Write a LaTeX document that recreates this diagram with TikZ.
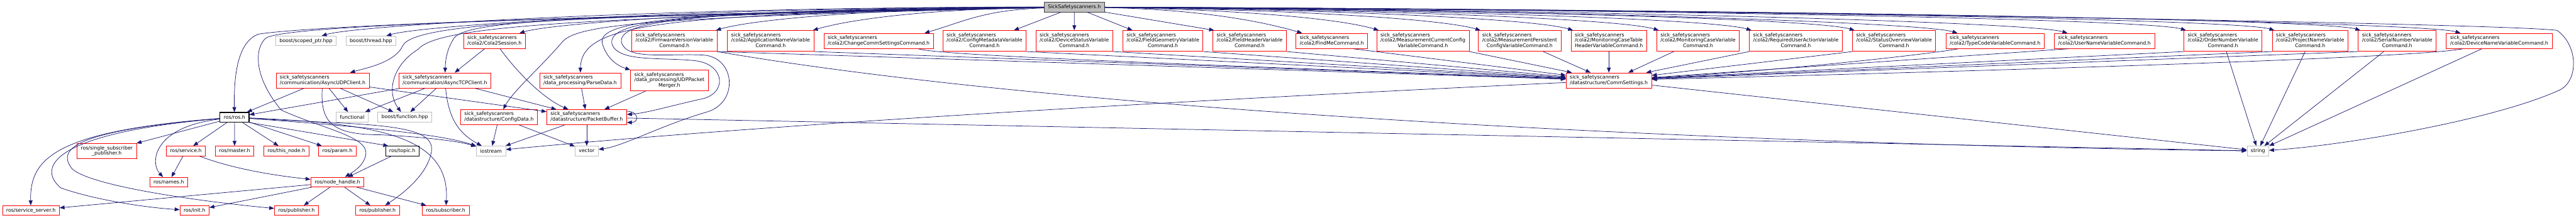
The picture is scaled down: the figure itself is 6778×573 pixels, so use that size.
\documentclass[tikz,border=0pt]{standalone}
\usepackage{fontspec}
\setmainfont{DejaVu Sans}
\usetikzlibrary{arrows.meta}
\definecolor{edgeblue}{HTML}{191970}
\definecolor{lightgrey}{HTML}{BFBFBF}
\definecolor{darkgrey}{HTML}{404040}
\newcommand{\sss}{sick\_safetyscanners}
\newcommand{\twoline}[2]{\begin{tabular}{@{}l@{}}#1\\#2\end{tabular}}
\newcommand{\threeline}[3]{\begin{tabular}{@{}l@{}}#1\\#2\\\multicolumn{1}{@{}c@{}}{#3}\end{tabular}}

\begin{document}
\begin{tikzpicture}[x=1pt,y=-1pt,
  font=\fontsize{13}{14.6}\selectfont,
  box/.style={draw,rectangle,fill=white,inner xsep=10pt,inner ysep=1pt,line width=1.3pt},
  redbox/.style={box,draw=red},
  greybox/.style={box,draw=lightgrey},
  one/.style={minimum height=25.6pt},
  two/.style={minimum height=40.2pt},
  three/.style={minimum height=54.8pt},
  dep/.style={draw=edgeblue,line width=1.2pt,-{Triangle[length=13pt,width=10pt]}}]
  \path[use as bounding box,fill=white] (0,0) rectangle (6778,573);

  \node[box,draw=darkgrey,fill=lightgrey,one] (root) at (2826.8,18.5) {SickSafetyscanners.h};

  \node[greybox,one] (scoped) at (805,107.8) {boost/scoped\_ptr.hpp};
  \node[greybox,one] (thread) at (976,107.8) {boost/thread.hpp};
  \node[redbox,two] (session) at (1301,107.8) {\twoline{\sss}{/cola2/Cola2Session.h}};
  \node[redbox,three] (firmware) at (1774.4,107.8) {\threeline{\sss}{/cola2/FirmwareVersionVariable}{Command.h}};
  \node[redbox,three] (appname) at (2027.7,107.8) {\threeline{\sss}{/cola2/ApplicationNameVariable}{Command.h}};
  \node[redbox,two] (commcmd) at (2311.9,107.8) {\twoline{\sss}{/cola2/ChangeCommSettingsCommand.h}};
  \node[redbox,three] (metadata) at (2590.4,107.8) {\threeline{\sss}{/cola2/ConfigMetadataVariable}{Command.h}};
  \node[redbox,three] (devstatus) at (2826.6,107.8) {\threeline{\sss}{/cola2/DeviceStatusVariable}{Command.h}};
  \node[redbox,three] (fieldgeo) at (3059.8,107.8) {\threeline{\sss}{/cola2/FieldGeometryVariable}{Command.h}};
  \node[redbox,three] (fieldhead) at (3288,107.8) {\threeline{\sss}{/cola2/FieldHeaderVariable}{Command.h}};
  \node[redbox,two] (findme) at (3504,107.8) {\twoline{\sss}{/cola2/FindMeCommand.h}};
  \node[redbox,three] (meascur) at (3744,107.8) {\threeline{\sss}{/cola2/MeasurementCurrentConfig}{VariableCommand.h}};
  \node[redbox,three] (measper) at (3998.6,107.8) {\threeline{\sss}{/cola2/MeasurementPersistent}{ConfigVariableCommand.h}};
  \node[redbox,three] (montable) at (4233.2,107.8) {\threeline{\sss}{/cola2/MonitoringCaseTable}{HeaderVariableCommand.h}};
  \node[redbox,three] (moncase) at (4467.9,107.8) {\threeline{\sss}{/cola2/MonitoringCaseVariable}{Command.h}};
  \node[redbox,three] (userreq) at (4725.2,107.8) {\threeline{\sss}{/cola2/RequiredUserActionVariable}{Command.h}};
  \node[redbox,three] (statusov) at (4983.7,107.8) {\threeline{\sss}{/cola2/StatusOverviewVariable}{Command.h}};
  \node[redbox,two] (typecode) at (5249.4,107.8) {\twoline{\sss}{/cola2/TypeCodeVariableCommand.h}};
  \node[redbox,two] (username) at (5537.3,107.8) {\twoline{\sss}{/cola2/UserNameVariableCommand.h}};
  \node[redbox,three] (ordernum) at (5849,107.8) {\threeline{\sss}{/cola2/OrderNumberVariable}{Command.h}};
  \node[redbox,three] (projname) at (6078.5,107.8) {\threeline{\sss}{/cola2/ProjectNameVariable}{Command.h}};
  \node[redbox,three] (serialnum) at (6307.6,107.8) {\threeline{\sss}{/cola2/SerialNumberVariable}{Command.h}};
  \node[redbox,two] (devname) at (6575.8,107.8) {\twoline{\sss}{/cola2/DeviceNameVariableCommand.h}};

  \node[redbox,two] (udp) at (849,212) {\twoline{\sss}{/communication/AsyncUDPClient.h}};
  \node[redbox,two] (tcp) at (1170.5,212) {\twoline{\sss}{/communication/AsyncTCPClient.h}};
  \node[redbox,two] (parse) at (1526.5,212) {\twoline{\sss}{/data\_processing/ParseData.h}};
  \node[redbox,three] (merger) at (1761.4,212) {\threeline{\sss}{/data\_processing/UDPPacket}{Merger.h}};
  \node[redbox,two] (commset) at (4233.2,212) {\twoline{\sss}{/datastructure/CommSettings.h}};

  \node[box,draw=black,line width=2pt,one] (ros) at (617,309) {ros/ros.h};
  \node[greybox,one] (functional) at (926.5,308.4) {functional};
  \node[greybox,one] (boostfn) at (1065,308.4) {boost/function.hpp};
  \node[redbox,two] (config) at (1313,308.8) {\twoline{\sss}{/datastructure/ConfigData.h}};
  \node[redbox,two] (buffer) at (1543.8,308.8) {\twoline{\sss}{/datastructure/PacketBuffer.h}};

  \node[redbox,two,align=center] (ssp) at (281,398) {ros/single\_subscriber\\\_publisher.h};
  \node[redbox,one] (service) at (489,397.6) {ros/service.h};
  \node[redbox,one] (master) at (617.2,397.6) {ros/master.h};
  \node[redbox,one] (thisnode) at (753.4,397.6) {ros/this\_node.h};
  \node[redbox,one] (param) at (887.8,397.6) {ros/param.h};
  \node[box,draw=black,one] (topic) at (1058.5,397.6) {ros/topic.h};
  \node[greybox,one] (iostream) at (1292,397.6) {iostream};
  \node[greybox,one] (vector) at (1543.8,397.6) {vector};
  \node[greybox,one] (string) at (5941,397.6) {string};

  \node[redbox,one] (names) at (444,479.8) {ros/names.h};
  \node[redbox,one] (nodehandle) at (887.7,479.8) {ros/node\_handle.h};

  \node[redbox,one] (server) at (81.3,554.4) {ros/service\_server.h};
  \node[redbox,one] (init) at (511.8,554.4) {ros/init.h};
  \node[redbox,one] (pub) at (780,554.4) {ros/publisher.h};
  \node[redbox,one] (pubb) at (993.3,554.4) {ros/publisher.h};
  \node[redbox,one] (sub) at (1172.8,554.4) {ros/subscriber.h};

  \foreach \n/\dx/\a/\b/\c/\d in {firmware/-3/2315/22/1985/50, appname/-3/2443/24/2240/50,
      commcmd/-24/2589/26/2533/58, session/-16/2056/20/1467/58, thread/-26/1881/19/1116/65, scoped/-39/1796/18/946/65}
    \draw[dep] (root) .. controls (\a,\b) and (\c,\d) .. ([xshift=\dx pt]\n.north east);
  \draw[dep] (root) -- ([xshift=-33pt]metadata.north east);
  \draw[dep] (root) -- (devstatus);
  \draw[dep] (root) -- ([xshift=26pt]fieldgeo.north west);
  \draw[dep] (root) -- ([xshift=4pt]fieldhead.north west);
  \foreach \n/\dx/\a/\c/\d in {findme/17/3166/3326/58, meascur/6/3268/3529/50, measper/6/3401/3795/50,
      montable/6/3523/4039/50, moncase/6/3636/4264/50, userreq/6/3757/4508/50, statusov/6/3893/4779/50,
      typecode/31/4028/5050/58, username/35/4173/5339/58, ordernum/6/4329/5651/50, projname/6/4445/5883/50,
      serialnum/6/4558/6110/50, devname/38/4690/6373/58}
    \draw[dep] (root) .. controls (\a,25) and (\c,\d) .. ([xshift=\dx pt]\n.north west);

  \draw[dep] (root) .. controls (1500,40) and (800,70) .. (680,90) .. controls (625,110) and (615,200) .. (ros);
  \draw[dep] (root) .. controls (1500,45) and (760,65) .. (700,100) .. controls (670,125) and (665,200) .. (740,290)
    .. controls (850,340) and (975,360) .. (962,410) .. controls (955,440) and (925,455) .. (nodehandle);
  \draw[dep] (root) .. controls (1500,40) and (1090,60) .. (1060,120) .. controls (1040,165) and (960,180) .. (udp);
  \draw[dep] (root) .. controls (1500,45) and (1150,70) .. (1100,130) .. controls (1035,170) and (1015,240) .. (boostfn);
  \draw[dep] (root) .. controls (1600,40) and (1230,50) .. (1195,100) .. controls (1175,130) and (1172,160) .. (tcp);
  \draw[dep] (root) .. controls (1700,45) and (1520,65) .. (1480,110) .. controls (1420,180) and (1350,240) .. (config);
  \draw[dep] (root) .. controls (1740,38) and (1530,60) .. (parse);
  \draw[dep] (root) .. controls (1760,30) and (1570,55) .. (1585,115) .. controls (1595,150) and (1620,172) .. (merger.north west);
  \draw[dep] (root) .. controls (1780,28) and (1600,55) .. (1610,115) .. controls (1625,165) and (1740,150) .. (1830,160)
    .. controls (1910,170) and (1915,250) .. (1840,262) .. controls (1760,280) and (1700,298) .. (buffer);
  \draw[dep] (root) .. controls (1800,28) and (1630,55) .. (1635,110) .. controls (1645,160) and (1760,140) .. (1850,145)
    .. controls (1935,150) and (1945,270) .. (1860,295) .. controls (1740,330) and (1640,385) .. (vector);
  \draw[dep] (root) .. controls (4500,25) and (6600,62) .. (6728,80) .. controls (6785,120) and (6785,215) .. (6733,238)
    .. controls (6550,320) and (6150,385) .. (string);

  \draw[dep] (session) -- (tcp);
  \draw[dep] (session) .. controls (1360,190) and (1430,260) .. (buffer);
  \draw[dep] (parse) -- (buffer);
  \draw[dep] (merger) -- (buffer);
  \draw[dep] (udp) -- (buffer);
  \draw[dep] (tcp) -- (buffer);
  \draw[dep] (udp) -- (ros);
  \draw[dep] (tcp) -- (ros);
  \draw[dep] (udp) -- (functional);
  \draw[dep] (udp) -- (boostfn);
  \draw[dep] (tcp) -- (functional);
  \draw[dep] (tcp) -- (boostfn);
  \draw[dep] (tcp) .. controls (1180,310) and (1205,350) .. (iostream);
  \draw[dep] (udp) .. controls (843,320) and (870,355) .. (1000,355) .. controls (1100,360) and (1200,370) .. (iostream);
  \draw[dep] (config) -- (iostream);
  \draw[dep] (config) -- (vector);
  \draw[dep] (buffer) -- (iostream);
  \draw[dep] (buffer) -- (vector);
  \draw[dep] ([yshift=-5pt]buffer.north east) .. controls +(32,0) and +(32,0) .. ([yshift=7pt]buffer.south east);
  \draw[dep] (buffer) -- (string);

  \draw[dep] (ros) -- (ssp);
  \draw[dep] (ros) -- (service);
  \draw[dep] (ros) -- (master);
  \draw[dep] (ros) -- (thisnode);
  \draw[dep] (ros) -- (param);
  \draw[dep] (ros.south east) -- ([xshift=8pt]topic.north west);
  \draw[dep] (ros) .. controls (400,335) and (395,430) .. ([xshift=-15pt]names.north);
  \draw[dep] (ros) .. controls (140,345) and (78,420) .. (server);
  \draw[dep] (ros) .. controls (140,350) and (95,440) .. (160,495) .. controls (260,530) and (400,548) .. (init);
  \draw[dep] (ros) .. controls (185,345) and (150,395) .. (190,445) .. controls (240,490) and (520,530) .. (pub);
  \draw[dep] (ros) .. controls (900,330) and (1150,350) .. (iostream);
  \draw[dep] (ros) .. controls (950,330) and (1150,320) .. (1135,400) .. controls (1125,460) and (1060,510) .. (pubb);
  \draw[dep] (ros) .. controls (1000,325) and (1185,360) .. (sub);
  \draw[dep] (topic) -- (nodehandle);
  \draw[dep] (service) .. controls (600,440) and (700,460) .. (nodehandle);
  \draw[dep] (service) -- (names);
  \foreach \n in {server,init,pub,pubb,sub}
    \draw[dep] (nodehandle) -- (\n);

  \foreach \n in {firmware,appname,metadata,devstatus,fieldgeo,fieldhead}
    \draw[dep] (\n.south east) -- (commset);
  \draw[dep] ([xshift=-40pt]commcmd.south east) .. controls (2470,148) and (3300,175) .. (commset);
  \draw[dep] ([xshift=-38pt]findme.south east) -- (commset);
  \draw[dep] (meascur.south east) -- ([xshift=16pt]commset.north west);
  \draw[dep] ([xshift=62pt]measper.south) -- ([xshift=-48pt]commset.north);
  \draw[dep] (montable) -- (commset);
  \draw[dep] ([xshift=-64pt]moncase.south) -- ([xshift=51pt]commset.north);
  \draw[dep] (userreq.south west) -- ([xshift=-15pt]commset.north east);
  \draw[dep] ([xshift=33pt]typecode.south west) .. controls (5080,142) and (4700,185) .. (commset);
  \draw[dep] ([xshift=37pt]username.south west) -- (commset);
  \foreach \n in {statusov,ordernum,projname,serialnum}
    \draw[dep] (\n.south west) -- (commset);
  \draw[dep] ([xshift=44pt]devname.south west) .. controls (6370,150) and (5500,180) .. (commset);
  \draw[dep] (commset) -- (string);
  \draw[dep] (commset) .. controls (3000,270) and (2000,330) .. (iostream);
  \draw[dep] (firmware.south east) .. controls (2900,310) and (4800,385) .. (string);
  \foreach \n in {ordernum,projname,serialnum,devname}
    \draw[dep] (\n) -- (string);
\end{tikzpicture}
\end{document}
